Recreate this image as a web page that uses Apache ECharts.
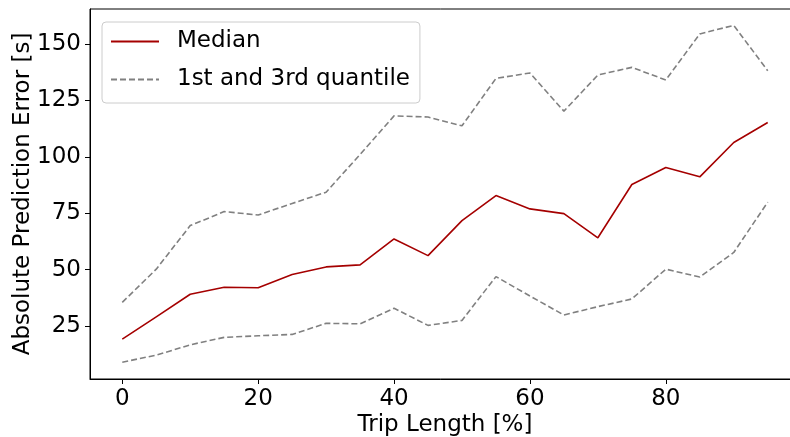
<!DOCTYPE html>
<html>
<head>
<meta charset="utf-8">
<script src="https://cdn.jsdelivr.net/npm/echarts@6/dist/echarts.min.js"></script>
<style>
  html, body { margin: 0; padding: 0; background: #fff; }
  #chart { width: 790px; height: 437px; }
</style>
</head>
<body>
<div id="chart"></div>
<script>
// Trip length positions (% of the trip)
const tripLength = [0, 5, 10, 15, 20, 25, 30, 35, 40, 45, 50, 55, 60, 65, 70, 75, 80, 85, 90, 95];
// Absolute prediction error [s]
const median = [19.2, 29.1, 39.1, 42.2, 42.0, 47.8, 51.2, 52.1, 63.6, 56.2, 71.7, 82.8, 76.9, 74.8, 64.1, 87.7, 95.2, 91.1, 106.3, 115.2];
const upperQuartile = [35.5, 50.2, 69.5, 75.7, 74.2, 79.3, 84.3, 101.0, 118.1, 117.6, 113.7, 134.7, 137.1, 120.2, 136.2, 139.6, 134.0, 154.4, 158.2, 138.1];
const lowerQuartile = [9.0, 12.1, 16.7, 20.0, 20.7, 21.3, 26.2, 26.0, 32.9, 25.3, 27.5, 46.9, 38.3, 29.9, 33.6, 37.0, 50.2, 46.7, 57.6, 79.9];
const xTicks = [0, 20, 40, 60, 80];
const yTicks = [25, 50, 75, 100, 125, 150];

const FONT = 'DejaVu Sans';
const FS = 23;
const pairs = ys => tripLength.map((x, i) => [x, ys[i]]);

const chart = echarts.init(document.getElementById('chart'), null, { renderer: 'canvas' });
chart.setOption({
  animation: false,
  backgroundColor: '#ffffff',
  grid: {
    left: 90, top: 9, width: 710, bottom: 58,
    outerBoundsMode: 'none',
    show: true, borderColor: '#000', borderWidth: 1, backgroundColor: 'transparent'
  },
  legend: {
    orient: 'vertical',
    left: 102, top: 22,
    padding: [5, 10, 9, 8],
    itemWidth: 48, itemHeight: 14, itemGap: 9,
    borderColor: '#cccccc', borderWidth: 1, borderRadius: 4,
    backgroundColor: 'rgba(255,255,255,0.8)',
    itemStyle: { color: 'transparent', borderWidth: 0 },
    textStyle: { fontFamily: FONT, fontSize: FS, color: '#000', lineHeight: 26, padding: [3, 0, 0, 13] },
    data: ['Median', '1st and 3rd quantile']
  },
  xAxis: {
    type: 'value', min: -4.75, max: 99.75,
    name: 'Trip Length [%]', nameLocation: 'middle', nameGap: 35, nameMoveOverlap: false,
    nameTextStyle: { fontFamily: FONT, fontSize: FS, color: '#000' },
    splitLine: { show: false },
    axisLine: { show: true, onZero: false, lineStyle: { color: '#000', width: 1 } },
    axisTick: { show: true, length: 5, customValues: xTicks, lineStyle: { color: '#000' } },
    axisLabel: { customValues: xTicks, fontFamily: FONT, fontSize: FS, color: '#000', margin: 9 }
  },
  yAxis: {
    type: 'value', min: 1.55, max: 165.45,
    name: 'Absolute Prediction Error [s]', nameLocation: 'middle', nameGap: 55, nameRotate: 90,
    nameMoveOverlap: false,
    nameTextStyle: { fontFamily: FONT, fontSize: FS, color: '#000' },
    splitLine: { show: false },
    axisLine: { show: true, onZero: false, lineStyle: { color: '#000', width: 1 } },
    axisTick: { show: true, length: 5, customValues: yTicks, lineStyle: { color: '#000' } },
    axisLabel: { customValues: yTicks, fontFamily: FONT, fontSize: FS, color: '#000', margin: 9 }
  },
  series: [
    {
      name: 'Median', type: 'line', data: pairs(median),
      symbol: 'none', lineStyle: { color: '#a50000', width: 1.6 }, itemStyle: { color: '#a50000' }
    },
    {
      name: '1st and 3rd quantile', type: 'line', data: pairs(upperQuartile),
      symbol: 'none', lineStyle: { color: '#808080', width: 1.6, type: [6, 3] }, itemStyle: { color: '#808080' }
    },
    {
      name: '1st and 3rd quantile', type: 'line', data: pairs(lowerQuartile),
      symbol: 'none', lineStyle: { color: '#808080', width: 1.6, type: [6, 3] }, itemStyle: { color: '#808080' }
    }
  ]
});
</script>
</body>
</html>
